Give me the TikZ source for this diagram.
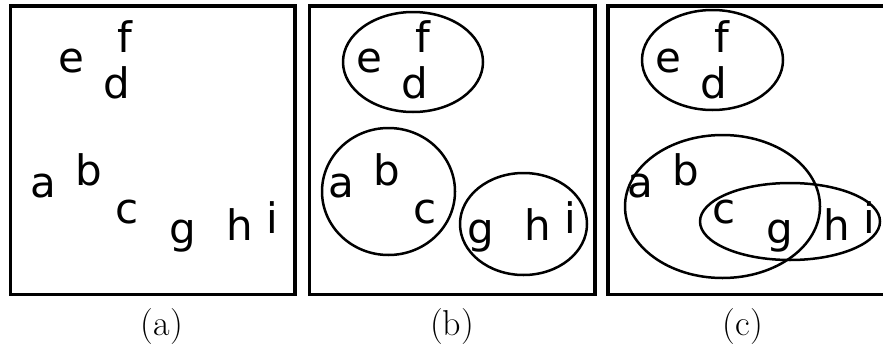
\documentclass[tikz,border=0pt]{standalone}
\usepackage{fontspec}
\newfontfamily\letterfont{DejaVu Sans}
\tikzset{
  panel/.style={draw, line width=3.5pt},
  group/.style={draw, line width=2.5pt},
  letter/.style={anchor=base, inner sep=0pt, font=\letterfont\fontsize{42}{42}\selectfont},
  caption/.style={anchor=base, inner sep=0pt, font=\fontsize{36}{36}\selectfont}
}
\begin{document}
\begin{tikzpicture}[x=1pt, y=-1pt]
\useasboundingbox (0,0) rectangle (883,343);
\fill[white] (0,0) rectangle (883,343);
\draw[panel] (10.5,6) rectangle (295,294.5);
\draw[panel] (309.5,6) rectangle (595,294.5);
\draw[panel] (608,6) rectangle (890,294.5);
\foreach \p/\dx in {a/0, b/298, c/597} {
  \foreach \l/\x/\y in {e/71/72, f/125/52, d/117/98, a/43/197, b/89/185, c/127/223, g/183/243, h/240/240, i/272/233}
    \node[letter] (\p\l) at (\dx+\x,\y) {\l};
}
\draw[group] (413,62) ellipse [x radius=70, y radius=50];
\draw[group] (388.5,191.5) ellipse [x radius=66.5, y radius=63.5];
\draw[group] (523.5,224) ellipse [x radius=63.5, y radius=51];
\draw[group] (712.5,60) ellipse [x radius=70.5, y radius=50];
\draw[group] (722.5,206.5) ellipse [x radius=97.5, y radius=71.5];
\draw[group] (790,221.5) ellipse [x radius=90, y radius=38.5];
\node[caption] (capa) at (162,335) {(a)};
\node[caption] (capb) at (452,335) {(b)};
\node[caption] (capc) at (743,335) {(c)};
\end{tikzpicture}
\end{document}
